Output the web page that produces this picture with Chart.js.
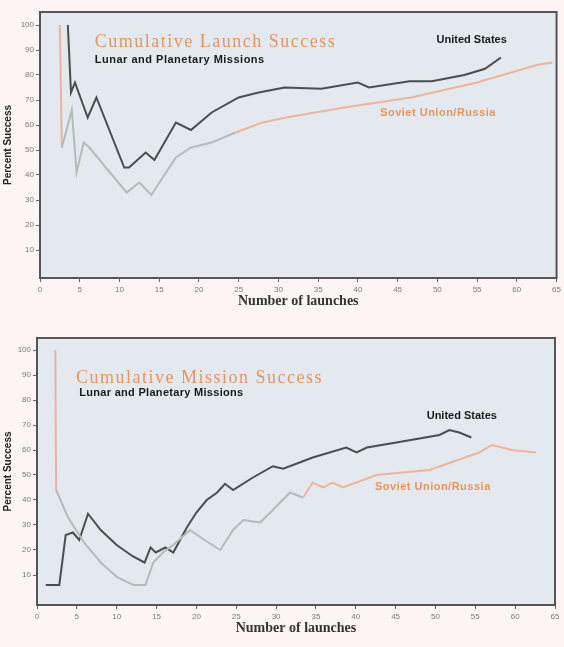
<!DOCTYPE html>
<html>
<head>
<meta charset="utf-8">
<script src="https://cdn.jsdelivr.net/npm/chart.js@4.4.1/dist/chart.umd.min.js"></script>
<style>
  html, body { margin: 0; padding: 0; background: #fcf4f5; }
  .box { position: absolute; left: 0; width: 564px; }
  #top { top: 0; height: 320px; }
  #bottom { top: 326px; height: 321px; }
</style>
</head>
<body>
<div class="box" id="top"><canvas id="launchChart"></canvas></div>
<div class="box" id="bottom"><canvas id="missionChart"></canvas></div>
<script>
// shared axis ticks
const xTicks = [0, 5, 10, 15, 20, 25, 30, 35, 40, 45, 50, 55, 60, 65];
const yTicks = [10, 20, 30, 40, 50, 60, 70, 80, 90, 100];

// cumulative launch success (top)
const usLaunchX = [3.5, 3.9, 4.4, 6.0, 7.1, 10.6, 11.2, 13.3, 14.4, 17.1, 19.0, 21.6, 25.0, 27.5, 30.8, 35.4, 40.0, 41.4, 46.5, 49.3, 53.4, 56.0, 58.0];
const usLaunchY = [100, 73, 77, 63, 71, 43, 43, 49, 46, 61, 58, 65, 71, 73, 75, 74.5, 77, 75, 77.5, 77.5, 80, 82.5, 87];
const suLaunchX = [2.5, 2.75, 4.0, 4.6, 5.5, 6.2, 10.9, 12.5, 14.0, 17.1, 19.0, 21.6, 24.6, 28.0, 31.0, 38.3, 46.7, 55.0, 62.5, 64.5];
const suLaunchY = [100, 51, 66, 41, 53, 51, 33, 37, 32, 47, 51, 53, 57, 61, 63, 67, 71, 77, 84, 85];

// cumulative mission success (bottom)
const usMissionX = [1.1, 2.8, 3.6, 4.5, 5.3, 6.4, 8.0, 10.0, 12.0, 13.5, 14.25, 14.9, 16.1, 17.1, 18.8, 20.0, 21.3, 22.6, 23.6, 24.6, 27.1, 29.6, 30.9, 34.6, 38.8, 40.1, 41.4, 45.1, 50.5, 51.75, 53.0, 54.5];
const usMissionY = [6, 6, 26, 27, 24, 34.5, 28, 22, 17.5, 15, 21, 19, 21, 19, 29, 35, 40, 43, 46.5, 44, 49, 53.5, 52.5, 57, 61, 59, 61, 63, 66, 68, 67, 65];
const suMissionX = [2.3, 2.4, 3.9, 5.9, 8.0, 10.1, 12.1, 13.6, 14.6, 15.8, 17.1, 19.2, 21.0, 23.0, 24.6, 25.9, 28.0, 29.6, 30.5, 31.75, 33.4, 34.6, 35.9, 37.1, 38.4, 42.6, 49.25, 55.5, 57.1, 59.6, 62.6];
const suMissionY = [100, 44, 33, 23, 15, 9, 6, 6, 15, 19, 22, 28, 24, 20, 28, 32, 31, 36, 39, 43, 41, 47, 45, 47, 45, 50, 52, 59, 62, 60, 59];

const sans = "'Liberation Sans', Arial, sans-serif";
const serif = "'Liberation Serif', 'Times New Roman', serif";
const orange = '#e9955f';

function pts(xs, ys) {
    return xs.map((x, i) => ({ x: x, y: ys[i] }));
}

function makeChart(id, opts) {
    const ctx = document.getElementById(id).getContext('2d');

    const framePlugin = {
        id: 'frame',
        beforeDatasetsDraw(chart) {
            const a = chart.chartArea, c = chart.ctx;
            c.save();
            c.fillStyle = '#e3e9ee';
            c.fillRect(a.left, a.top, a.right - a.left, a.bottom - a.top);
            c.restore();
        },
        afterDraw(chart) {
            const a = chart.chartArea, c = chart.ctx;
            const xs = chart.scales.x, ys = chart.scales.y;
            c.save();
            c.strokeStyle = '#555';
            c.lineWidth = 2;
            c.strokeRect(a.left, a.top, a.right - a.left, a.bottom - a.top);
            c.textBaseline = 'middle';
            c.textAlign = 'left';
            opts.notes.forEach(n => {
                c.font = n.font;
                c.fillStyle = n.color;
                c.letterSpacing = n.spacing || '0px';
                c.fillText(n.text, xs.getPixelForValue(n.x), ys.getPixelForValue(n.y));
            });
            c.restore();
        }
    };

    return new Chart(ctx, {
        type: 'line',
        data: {
            datasets: [{
                label: 'Soviet Union/Russia',
                data: pts(opts.suX, opts.suY),
                borderWidth: 2,
                pointRadius: 0,
                segment: {
                    borderColor: s => {
                        const x0 = s.p0.parsed.x;
                        if (x0 < opts.pinkStart) return '#eab2a6';
                        return x0 < opts.grayEnd ? '#b9b9b9' : '#eeb59c';
                    }
                }
            }, {
                label: 'United States',
                data: pts(opts.usX, opts.usY),
                borderColor: '#4d4d4d',
                borderWidth: 2,
                pointRadius: 0
            }]
        },
        options: {
            responsive: true,
            maintainAspectRatio: false,
            animation: false,
            layout: { padding: { top: 12, right: opts.padRight, left: 0, bottom: 10 } },
            plugins: {
                legend: { display: false },
                tooltip: { enabled: false }
            },
            scales: {
                x: {
                    type: 'linear',
                    min: 0,
                    max: 65,
                    afterFit: scale => { scale.height = 32; },
                    afterBuildTicks: scale => { scale.ticks = xTicks.map(v => ({ value: v })); },
                    grid: { drawOnChartArea: false, tickLength: 4, color: '#666' },
                    border: { display: false },
                    ticks: { font: { family: sans, size: 8 }, color: '#7a7a7a', padding: 3, maxRotation: 0 },
                    title: {
                        display: true,
                        text: 'Number of launches',
                        font: { family: serif, size: 14, weight: 'bold' },
                        color: '#333',
                        padding: 0
                    }
                },
                y: {
                    min: opts.yMin,
                    max: opts.yMax,
                    afterFit: scale => { scale.width = opts.yWidth; },
                    afterBuildTicks: scale => { scale.ticks = yTicks.map(v => ({ value: v })); },
                    grid: { drawOnChartArea: false, tickLength: 4, color: '#666' },
                    border: { display: false },
                    ticks: { font: { family: sans, size: 8 }, color: '#7a7a7a', padding: 2 },
                    title: {
                        display: true,
                        text: 'Percent Success',
                        font: { family: sans, size: 10, weight: 'bold' },
                        color: '#222',
                        padding: 2
                    }
                }
            }
        },
        plugins: [framePlugin]
    });
}

makeChart('launchChart', {
    usX: usLaunchX, usY: usLaunchY, suX: suLaunchX, suY: suLaunchY,
    pinkStart: 2.6, grayEnd: 24,
    yMin: -1.2, yMax: 105.2, yWidth: 40, padRight: 7,
    notes: [
        { text: 'Cumulative Launch Success', x: 6.9, y: 93.2, font: '18px ' + serif, color: orange, spacing: '1.5px' },
        { text: 'Lunar and Planetary Missions', x: 6.9, y: 86, font: 'bold 11px ' + sans, color: '#1a1a1a', spacing: '0.5px' },
        { text: 'United States', x: 49.9, y: 94, font: 'bold 11px ' + sans, color: '#1a1a1a' },
        { text: 'Soviet Union/Russia', x: 42.8, y: 64.8, font: 'bold 11px ' + sans, color: orange, spacing: '0.5px' }
    ]
});

makeChart('missionChart', {
    usX: usMissionX, usY: usMissionY, suX: suMissionX, suY: suMissionY,
    pinkStart: 2.35, grayEnd: 33.4,
    yMin: -2, yMax: 104.8, yWidth: 37, padRight: 9,
    notes: [
        { text: 'Cumulative Mission Success', x: 4.9, y: 88.8, font: '18px ' + serif, color: orange, spacing: '1.5px' },
        { text: 'Lunar and Planetary Missions', x: 5.3, y: 82.8, font: 'bold 11px ' + sans, color: '#1a1a1a', spacing: '0.3px' },
        { text: 'United States', x: 48.9, y: 73.6, font: 'bold 11px ' + sans, color: '#1a1a1a' },
        { text: 'Soviet Union/Russia', x: 42.4, y: 45.2, font: 'bold 11px ' + sans, color: orange, spacing: '0.5px' }
    ]
});
</script>
</body>
</html>
